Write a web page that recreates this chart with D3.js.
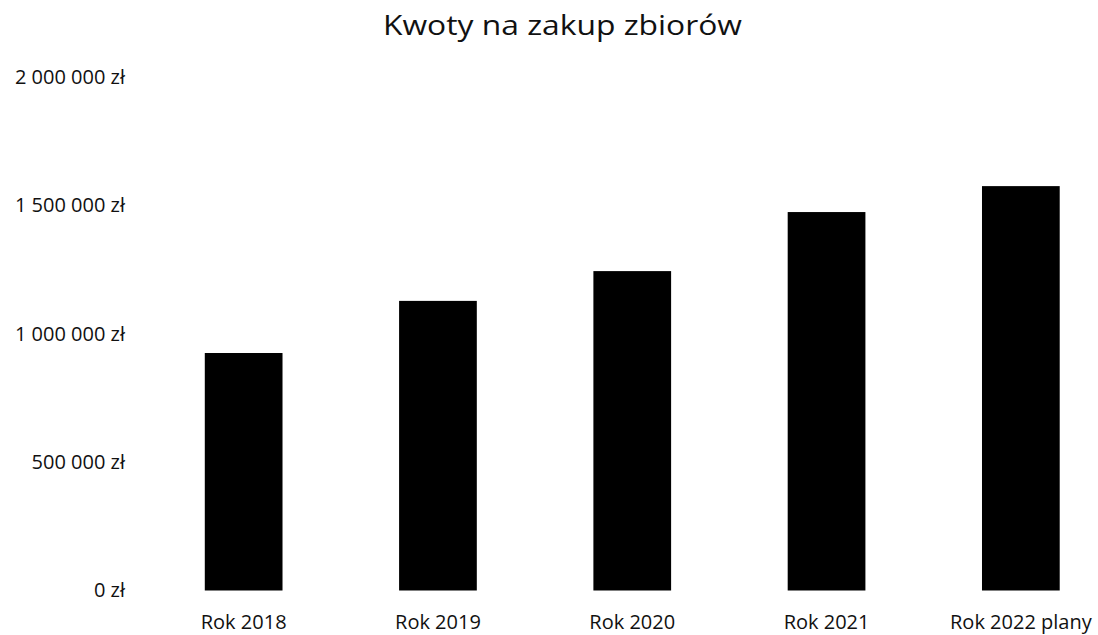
<!DOCTYPE html>
<html>
<head>
<meta charset="utf-8">
<script src="https://cdn.jsdelivr.net/npm/d3@7"></script>
<style>
  body { margin: 0; background: #fff; }
  text { font-family: "Open Sans", sans-serif; fill: #111; }
</style>
</head>
<body>
<div id="chart-area"></div>
<script>
const categories = ['Rok 2018', 'Rok 2019', 'Rok 2020', 'Rok 2021', 'Rok 2022 plany'];
const amounts = [925000, 1128000, 1244000, 1474000, 1575000];
const yTicks = [0, 500000, 1000000, 1500000, 2000000];
const title = 'Kwoty na zakup zbiorów';

const WIDTH = 1098;
const HEIGHT = 635;

const data = categories.map((c, i) => ({category: c, amount: amounts[i]}));

const svg = d3.select('#chart-area')
  .append('svg')
  .attr('width', WIDTH)
  .attr('height', HEIGHT);

const x = d3.scaleBand()
  .domain(categories)
  .range([146.5, 1118])
  .paddingInner(0.6)
  .paddingOuter(0.3);

const y = d3.scaleLinear()
  .domain([0, 2000000])
  .range([590.5, 77]);

const locale = d3.formatLocale({decimal: ',', thousands: '\u00a0', grouping: [3], currency: ['', '\u00a0zł']});
const fmt = locale.format('$,.0f');

// title
svg.append('text')
  .attr('x', 562.5)
  .attr('y', 35)
  .attr('text-anchor', 'middle')
  .attr('font-size', '28px')
  .attr('textLength', 359)
  .attr('lengthAdjust', 'spacingAndGlyphs')
  .text(title);

// y axis
const yAxisGroup = svg.append('g')
  .attr('transform', 'translate(146,0)')
  .call(d3.axisLeft(y).tickValues(yTicks).tickSize(0).tickPadding(21).tickFormat(fmt));
yAxisGroup.select('.domain').remove();
yAxisGroup.selectAll('text')
  .attr('font-size', '20px')
  .attr('font-family', '"Open Sans", sans-serif')
  .attr('fill', '#111');

// x axis
const xAxisGroup = svg.append('g')
  .attr('transform', 'translate(0,590.5)')
  .call(d3.axisBottom(x).tickSize(0).tickPadding(24));
xAxisGroup.select('.domain').remove();
xAxisGroup.selectAll('text')
  .attr('font-size', '20px')
  .attr('font-family', '"Open Sans", sans-serif')
  .attr('fill', '#111');

// bars
svg.selectAll('rect.bar')
  .data(data)
  .enter().append('rect')
  .attr('class', 'bar')
  .attr('x', d => x(d.category))
  .attr('y', d => y(d.amount))
  .attr('width', x.bandwidth())
  .attr('height', d => y(0) - y(d.amount))
  .attr('fill', '#000');
</script>
</body>
</html>
